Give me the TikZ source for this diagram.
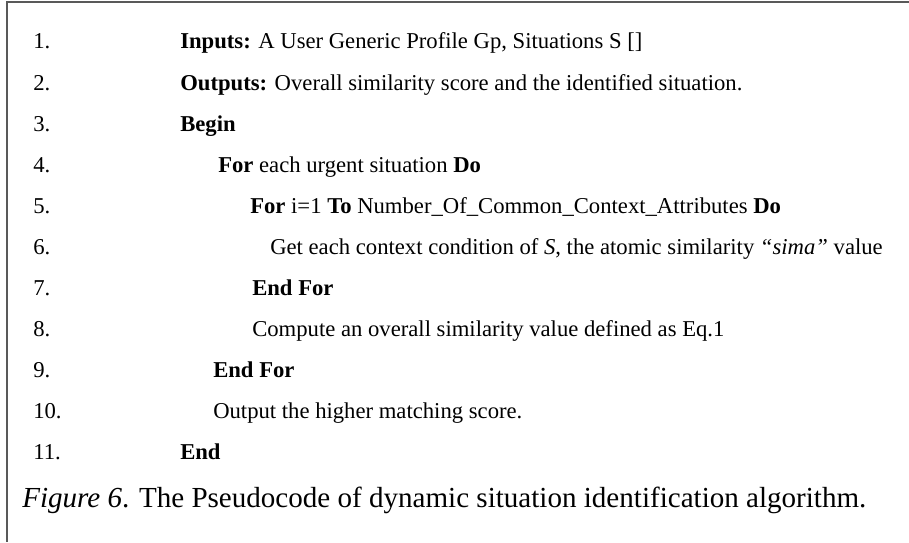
\documentclass[tikz,border=0pt]{standalone}
\usepackage{fontspec}
\setmainfont{Liberation Serif}
\usetikzlibrary{positioning}

\begin{document}
\begin{tikzpicture}[x=0.75pt, y=-0.75pt,
  codeline/.style={anchor=base west, inner sep=0pt, font=\fontsize{17}{20}\selectfont},
  capline/.style={anchor=base west, inner sep=0pt, font=\fontsize{21.8}{26}\selectfont},
  frame/.style={draw=black!65, line width=1.5pt}]

  \useasboundingbox (0,0) rectangle (909,542);

  % open frame of the table, top and left only
  \coordinate (tl) at (7,2);
  \coordinate (tr) at (909,2);
  \coordinate (bl) at (7,542);
  \draw [frame] (tr) -- (tl) -- (bl);

  % line numbers
  \node [codeline] (n1) at (33,49) {1.};
  \node [codeline] (n2) at (33,90) {2.};
  \node [codeline] (n3) at (33,131) {3.};
  \node [codeline] (n4) at (33,172) {4.};
  \node [codeline] (n5) at (33,213) {5.};
  \node [codeline] (n6) at (33,254) {6.};
  \node [codeline] (n7) at (33,295) {7.};
  \node [codeline] (n8) at (33,336) {8.};
  \node [codeline] (n9) at (33,377) {9.};
  \node [codeline] (n10) at (33,418) {10.};
  \node [codeline] (n11) at (33,459) {11.};

  % pseudocode
  \node [codeline] (inputs) at (180,49) {\textbf{Inputs:} A User Generic Profile Gp, Situations S []};
  \node [codeline] (outputs) at (180,90) {\textbf{Outputs:} Overall similarity score and the identified situation.};
  \node [codeline] (begin) at (180,131) {\textbf{Begin}};
  \node [codeline] (forsit) at (218,172) {\textbf{For} each urgent situation \textbf{Do}};
  \node [codeline] (forattr) at (250,213) {\textbf{For} i=1 \textbf{To} Number\_Of\_Common\_Context\_Attributes \textbf{Do}};
  \node [codeline] (getsim) at (270,254) {Get each context condition of \textit{S}, the atomic similarity \textit{``sima''} value};
  \node [codeline] (endattr) at (252,295) {\textbf{End For}};
  \node [codeline] (overall) at (252,336) {Compute an overall similarity value defined as Eq.1};
  \node [codeline] (endsit) at (213,377) {\textbf{End For}};
  \node [codeline] (score) at (213,418) {Output the higher matching score.};
  \node [codeline] (end) at (180,459) {\textbf{End}};

  \node [capline] (caption) at (22,507) {\textit{Figure 6}. The Pseudocode of dynamic situation identification algorithm.};

\end{tikzpicture}
\end{document}
